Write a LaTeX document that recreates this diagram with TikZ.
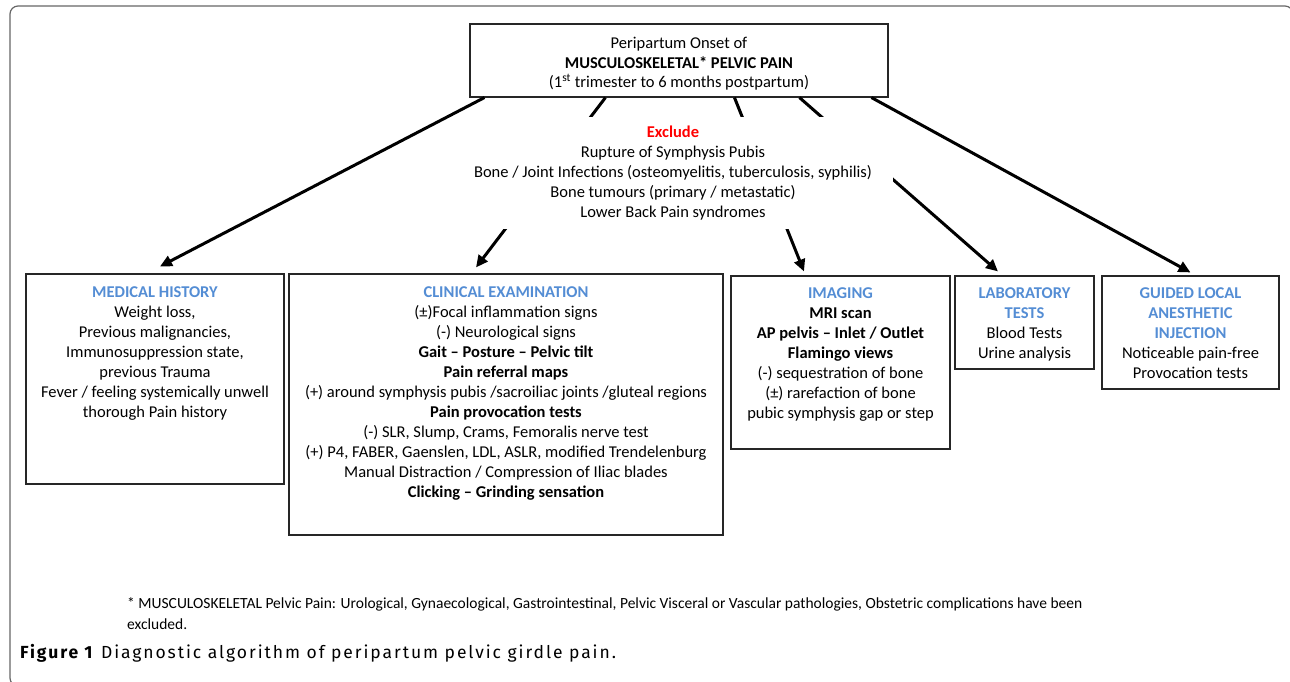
\documentclass[tikz,border=0pt]{standalone}
\usepackage{fontspec}
\setmainfont{Carlito}
\newfontfamily\captionfont[LetterSpace=11]{Fira Sans}
\usetikzlibrary{arrows.meta, positioning}

\definecolor{headblue}{RGB}{84,141,212}
\definecolor{excludered}{RGB}{255,0,0}
\newcommand{\boxhead}[1]{\textcolor{headblue}{\textbf{#1}}}

\begin{document}
\begin{tikzpicture}[x=1pt, y=-1pt,
    algobox/.style={draw=black!85, line width=1.1pt, inner sep=0pt},
    boxtext/.style={anchor=north, align=center, inner sep=0pt, font=\fontsize{16.5}{20}\selectfont},
    flow/.style={line width=3pt, -{Triangle[length=12pt, width=11pt]}}]
        \useasboundingbox (0,0) rectangle (1290,681);

        % --- OUTER FRAME ---
        \begin{scope}
            \clip (0,0) rectangle (1290,681);
            \draw[black!60, line width=1.2pt, rounded corners=8pt] (10,6) rectangle (1293,686);
        \end{scope}

        % --- TOP: ONSET ---
        \node[algobox, minimum width=418pt, minimum height=73pt, align=center, font=\fontsize{16.5}{19.5}\selectfont] (onset) at (679,60.5)
            {\rule{0pt}{18pt}Peripartum Onset of\\ \textbf{MUSCULOSKELETAL* PELVIC PAIN}\\ (1\textsuperscript{st} trimester to 6 months postpartum)};

        % --- BOTTOM ROW: THE FIVE WORK-UP BOXES ---
        \node[algobox, minimum width=258pt, minimum height=210pt] (history) at (155,379) {};
        \node[algobox, minimum width=434pt, minimum height=261pt] (clinical) at (506,404.5) {};
        \node[algobox, minimum width=219pt, minimum height=173pt] (imaging) at (840.5,362.5) {};
        \node[algobox, minimum width=139pt, minimum height=93pt] (labtests) at (1024.5,322.5) {};
        \node[algobox, minimum width=177pt, minimum height=113pt] (injection) at (1190.5,332.5) {};

        \node[boxtext] (historytext) at ([yshift=-13pt]history.north)
            {\boxhead{MEDICAL HISTORY}\\ Weight loss,\\ Previous malignancies,\\ Immunosuppression state,\\ previous Trauma\\
             Fever / feeling systemically unwell\\ thorough Pain history};
        \node[boxtext] (clinicaltext) at ([yshift=-13pt]clinical.north)
            {\boxhead{CLINICAL EXAMINATION}\\ (±)Focal inflammation signs\\ (-) Neurological signs\\
             \textbf{Gait – Posture – Pelvic tilt}\\ \textbf{Pain referral maps}\\
             (+) around symphysis pubis /sacroiliac joints /gluteal regions\\ \textbf{Pain provocation tests}\\
             (-) SLR, Slump, Crams, Femoralis nerve test\\ (+) P4, FABER, Gaenslen, LDL, ASLR, modified Trendelenburg\\
             Manual Distraction / Compression of Iliac blades\\ \textbf{Clicking – Grinding sensation}};
        \node[boxtext] (imagingtext) at ([yshift=-12pt]imaging.north)
            {\boxhead{IMAGING}\\ \textbf{MRI scan}\\ \textbf{AP pelvis – Inlet / Outlet}\\ \textbf{Flamingo views}\\
             (-) sequestration of bone\\ (±) rarefaction of bone\\ pubic symphysis gap or step};
        \node[boxtext] (labtext) at ([yshift=-12pt]labtests.north)
            {\boxhead{LABORATORY}\\ \boxhead{TESTS}\\ Blood Tests\\ Urine analysis};
        \node[boxtext] (injectiontext) at ([yshift=-12pt]injection.north)
            {\boxhead{GUIDED LOCAL}\\ \boxhead{ANESTHETIC}\\ \boxhead{INJECTION}\\ Noticeable pain-free\\ Provocation tests};

        % --- ARROWS (the exclusion note is laid over them) ---
        \draw[flow] ([xshift=15pt]onset.south west) -- ([xshift=5pt, yshift=7pt]history.north);
        \draw[flow] ([xshift=136pt]onset.south west) -- ([xshift=-30pt, yshift=6pt]clinical.north);
        \draw[flow] ([xshift=265pt]onset.south west) -- ([xshift=-36.5pt, yshift=4pt]imaging.north);
        \draw[flow] ([xshift=330pt]onset.south west) -- ([xshift=-26.5pt, yshift=4pt]labtests.north);
        \draw[flow] ([xshift=402pt]onset.south west) -- ([yshift=3pt]injection.north);

        % --- EXCLUSION NOTE ---
        \node[fill=white, inner sep=0pt, minimum width=440pt, minimum height=112pt, align=center,
              font=\fontsize{16.5}{20}\selectfont] (exclude) at (673,173)
            {\textcolor{excludered}{\textbf{Exclude}}\\ Rupture of Symphysis Pubis\\
             Bone / Joint Infections (osteomyelitis, tuberculosis, syphilis)\\
             Bone tumours (primary / metastatic)\\ Lower Back Pain syndromes};

        % --- FOOTNOTE AND CAPTION ---
        \node[anchor=north west, align=left, inner sep=0pt, font=\fontsize{15.5}{21}\selectfont] (footnote) at (127,597)
            {* MUSCULOSKELETAL Pelvic Pain: Urological, Gynaecological, Gastrointestinal, Pelvic Visceral or Vascular pathologies, Obstetric complications have been\\
             excluded.};
        \node[anchor=north west, inner sep=0pt, font=\captionfont\fontsize{17.5}{21}\selectfont] (caption) at (20,644)
            {\textbf{Figure 1} Diagnostic algorithm of peripartum pelvic girdle pain.};
\end{tikzpicture}
\end{document}
